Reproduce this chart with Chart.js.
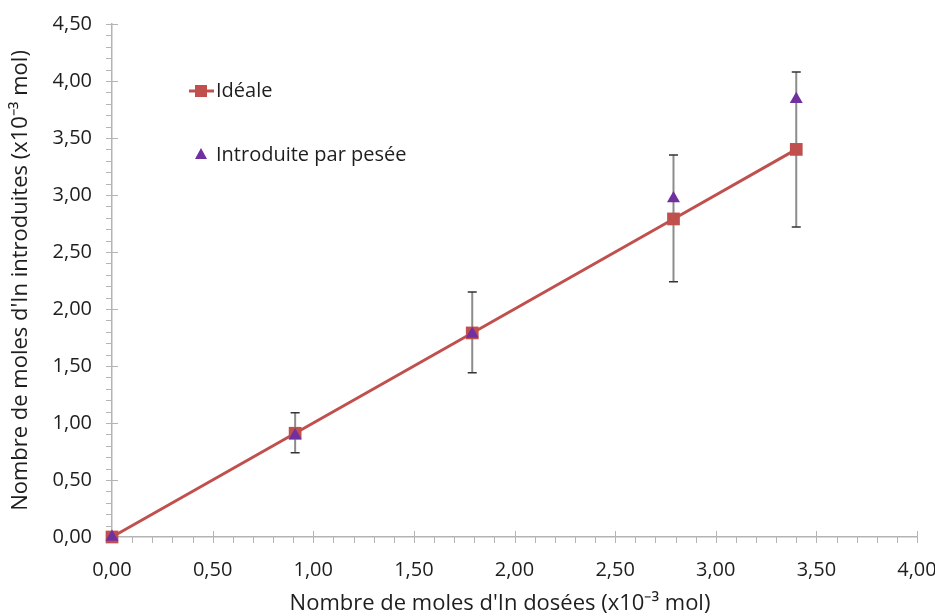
<!DOCTYPE html>
<html>
<head>
<meta charset="utf-8">
<script src="https://cdn.jsdelivr.net/npm/chart.js@4/dist/chart.umd.min.js"></script>
<style>
  html, body { margin: 0; padding: 0; background: #fff; }
  #wrap { width: 935px; height: 616px; }
</style>
</head>
<body>
<div id="wrap"><canvas id="chart" width="935" height="616"></canvas></div>
<script>
// values (x10^-3 mol)
const xDosees = [0, 0.91, 1.79, 2.79, 3.40];
const yIdeale = [0, 0.91, 1.79, 2.79, 3.40];
const yPesee = [0, 0.89, 1.78, 2.97, 3.84];
const errLow = [0, 0.74, 1.44, 2.24, 2.72];
const errHigh = [0, 1.09, 2.15, 3.35, 4.08];
const legendLabels = ['Idéale', 'Introduite par pesée'];
const xTitle = "Nombre de moles d'In dosées (x10⁻³ mol)";
const yTitle = "Nombre de moles d'In introduites (x10⁻³ mol)";

const RED = '#C0504D';
const PURPLE = '#7030A0';
const AXIS = '#B4B4B4';
const TEXT = '#1E1E1E';
const FONT = '"Open Sans", sans-serif';

const fmt = v => v.toFixed(2).replace('.', ',');

// error bars drawn under the markers
const errorBars = {
  id: 'errorBars',
  beforeDatasetsDraw(chart) {
    const { ctx, scales: { x, y } } = chart;
    ctx.save();
    xDosees.forEach((xv, i) => {
      if (errHigh[i] === errLow[i]) return;
      const px = x.getPixelForValue(xv);
      const top = y.getPixelForValue(errHigh[i]);
      const bot = y.getPixelForValue(errLow[i]);
      ctx.strokeStyle = '#8C8C8C';
      ctx.lineWidth = 2;
      ctx.beginPath();
      ctx.moveTo(px, top); ctx.lineTo(px, bot);
      ctx.stroke();
      ctx.strokeStyle = '#333';
      ctx.lineWidth = 1.5;
      ctx.beginPath();
      ctx.moveTo(px - 4.5, top); ctx.lineTo(px + 4.5, top);
      ctx.moveTo(px - 4.5, bot); ctx.lineTo(px + 4.5, bot);
      ctx.stroke();
    });
    ctx.restore();
  }
};

// axis tick marks (major crossing, minor outside)
const tickMarks = {
  id: 'tickMarks',
  beforeDatasetsDraw(chart) {
    const { ctx, scales: { x, y } } = chart;
    const x0 = x.getPixelForValue(0);
    const y0 = y.getPixelForValue(0);
    ctx.save();
    ctx.strokeStyle = AXIS;
    ctx.lineWidth = 1;
    ctx.beginPath();
    for (let k = 0; k <= 40; k++) {
      const px = Math.round(x.getPixelForValue(k / 10)) + 0.5;
      if (k % 5 === 0) { ctx.moveTo(px, y0 - 6); ctx.lineTo(px, y0 + 6); }
      else { ctx.moveTo(px, y0); ctx.lineTo(px, y0 + 6); }
    }
    for (let k = 0; k <= 45; k++) {
      const py = Math.round(y.getPixelForValue(k / 10)) + 0.5;
      if (k % 5 === 0) { ctx.moveTo(x0 - 6, py); ctx.lineTo(x0 + 6, py); }
      else { ctx.moveTo(x0 - 6, py); ctx.lineTo(x0, py); }
    }
    ctx.stroke();
    ctx.restore();
  }
};

// legend inside the plot, top left, and x axis title (sits left of centre)
const insideLegend = {
  id: 'insideLegend',
  afterDraw(chart) {
    const { ctx } = chart;
    ctx.save();
    ctx.font = '20px ' + FONT;
    ctx.textBaseline = 'middle';
    // Idéale
    ctx.strokeStyle = RED;
    ctx.lineWidth = 3;
    ctx.beginPath();
    ctx.moveTo(189, 91); ctx.lineTo(214, 91);
    ctx.stroke();
    ctx.fillStyle = RED;
    ctx.fillRect(195, 85, 12, 12);
    ctx.fillStyle = TEXT;
    ctx.fillText(legendLabels[0], 216, 91);
    // Introduite par pesée
    ctx.fillStyle = PURPLE;
    ctx.beginPath();
    ctx.moveTo(201, 148); ctx.lineTo(207, 159); ctx.lineTo(195, 159);
    ctx.closePath();
    ctx.fill();
    ctx.fillStyle = TEXT;
    ctx.fillText(legendLabels[1], 216, 155);
    // x title
    ctx.font = '22px ' + FONT;
    ctx.textAlign = 'center';
    ctx.fillText(xTitle, 500, 604);
    ctx.restore();
  }
};

new Chart(document.getElementById('chart').getContext('2d'), {
  type: 'scatter',
  data: {
    datasets: [
      {
        label: legendLabels[0],
        data: xDosees.map((x, i) => ({ x, y: yIdeale[i] })),
        showLine: true,
        borderColor: RED,
        borderWidth: 3,
        backgroundColor: RED,
        pointStyle: 'rect',
        pointRadius: 9,
        pointBorderWidth: 0,
        clip: false,
        order: 2
      },
      {
        label: legendLabels[1],
        data: xDosees.map((x, i) => ({ x, y: yPesee[i] })),
        borderColor: PURPLE,
        backgroundColor: PURPLE,
        pointStyle: 'triangle',
        pointRadius: 7.5,
        pointBorderWidth: 0,
        clip: false,
        order: 1
      }
    ]
  },
  options: {
    responsive: false,
    animation: false,
    layout: { padding: { top: 24, right: 18, left: 0, bottom: 0 } },
    plugins: {
      legend: { display: false },
      tooltip: { enabled: false }
    },
    scales: {
      x: {
        type: 'linear',
        min: 0, max: 4,
        grid: { display: false, drawTicks: false },
        border: { display: true, color: AXIS, width: 1.5 },
        ticks: {
          stepSize: 0.5,
          padding: 21,
          color: TEXT,
          font: { family: FONT, size: 20 },
          callback: v => fmt(v)
        },
        title: { display: false },
        afterFit: s => { s.height = 79; s.paddingLeft = 0; s.paddingRight = 0; }
      },
      y: {
        type: 'linear',
        min: 0, max: 4.5,
        grid: { display: false, drawTicks: false },
        border: { display: true, color: AXIS, width: 1.5 },
        ticks: {
          stepSize: 0.5,
          padding: 20,
          color: TEXT,
          font: { family: FONT, size: 20 },
          callback: v => fmt(v)
        },
        title: {
          display: true,
          text: yTitle,
          color: TEXT,
          font: { family: FONT, size: 22 },
          padding: { top: 8, bottom: 6 }
        },
        afterFit: s => { s.width = 112; s.paddingTop = 0; s.paddingBottom = 0; }
      }
    }
  },
  plugins: [tickMarks, errorBars, insideLegend]
});
</script>
</body>
</html>
